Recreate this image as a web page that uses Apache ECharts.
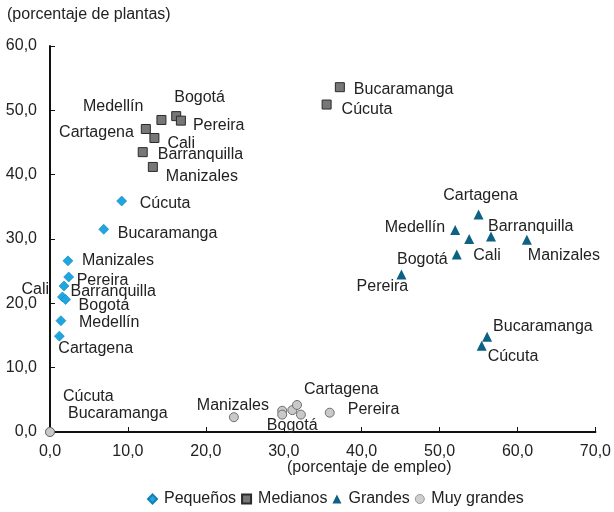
<!DOCTYPE html>
<html>
<head>
<meta charset="utf-8">
<script src="https://cdn.jsdelivr.net/npm/echarts@6/dist/echarts.min.js"></script>
<style>
    html, body { margin: 0; padding: 0; background: #fff; }
    #chart { width: 614px; height: 512px; }
</style>
</head>
<body>
<div id="chart"></div>
<script>
    // datos
    const pequenosNames = ['Cúcuta', 'Bucaramanga', 'Manizales', 'Pereira', 'Cali', 'Barranquilla', 'Bogotá', 'Medellín', 'Cartagena'];
    const pequenosX = [9.2, 6.9, 2.3, 2.4, 1.8, 1.6, 2.0, 1.4, 1.2];
    const pequenosY = [35.9, 31.5, 26.6, 24.1, 22.7, 21.0, 20.6, 17.3, 14.9];

    const medianosNames = ['Medellín', 'Bogotá', 'Pereira', 'Cartagena', 'Cali', 'Barranquilla', 'Manizales', 'Bucaramanga', 'Cúcuta'];
    const medianosX = [14.3, 16.2, 16.8, 12.3, 13.4, 11.9, 13.2, 37.2, 35.5];
    const medianosY = [48.5, 49.1, 48.4, 47.1, 45.7, 43.5, 41.2, 53.6, 50.9];

    const grandesNames = ['Cartagena', 'Medellín', 'Cali', 'Barranquilla', 'Manizales', 'Bogotá', 'Pereira', 'Bucaramanga', 'Cúcuta'];
    const grandesX = [55.0, 52.0, 53.8, 56.6, 61.2, 52.2, 45.1, 56.1, 55.4];
    const grandesY = [33.8, 31.4, 30.0, 30.4, 29.9, 27.6, 24.5, 14.8, 13.4];

    const muyGrandesNames = ['Cúcuta', 'Bucaramanga', 'Manizales', 'Medellín', 'Bogotá', 'Cali', 'Cartagena', 'Barranquilla', 'Pereira'];
    const muyGrandesX = [0, 0, 23.6, 29.8, 29.8, 31.1, 31.7, 32.2, 35.9];
    const muyGrandesY = [0, 0, 2.3, 3.3, 2.7, 3.4, 4.2, 2.7, 3.0];

    // posicion de las etiquetas: [dx, dy, align] desde el centro del simbolo
    const pequenosLabels = {
        'Cúcuta': [18, 1.5, 'left'], 'Bucaramanga': [14, 2.5, 'left'], 'Manizales': [14, -2, 'left'],
        'Pereira': [8, 2, 'left'], 'Cali': [-15, 2, 'right'], 'Barranquilla': [8, -7, 'left'],
        'Bogotá': [13, 5, 'left'], 'Medellín': [18, 0.5, 'left'], 'Cartagena': [-1, 11, 'left']
    };
    const medianosLabels = {
        'Medellín': [-18, -15, 'right'], 'Bogotá': [-2, -20, 'left'], 'Pereira': [12, 3, 'left'],
        'Cartagena': [-12, 2, 'right'], 'Cali': [13, 4, 'left'], 'Barranquilla': [15, 1, 'left'],
        'Manizales': [13, 8, 'left'], 'Bucaramanga': [14, 0.5, 'left'], 'Cúcuta': [15, 4, 'left']
    };
    const grandesLabels = {
        'Cartagena': [2, -20, 'center'], 'Medellín': [-10, -4, 'right'], 'Cali': [4, 15, 'left'],
        'Barranquilla': [-3, -11, 'left'], 'Manizales': [1, 14, 'left'], 'Bogotá': [-9, 4, 'right'],
        'Pereira': [-19, 11, 'center'], 'Bucaramanga': [6, -12, 'left'], 'Cúcuta': [6, 9, 'left']
    };
    const muyGrandesLabels = {
        'Cúcuta': [13, -37, 'left'], 'Bucaramanga': [18, -20, 'left'], 'Manizales': [-1, -13, 'center'],
        'Bogotá': [10, 9, 'center'], 'Cartagena': [7, -17, 'left'], 'Pereira': [18, -5, 'left']
    };

    const FONT = 'Liberation Sans, Arial, sans-serif';
    const fmt = v => v.toFixed(1).replace('.', ',');

    function buildData(names, xs, ys, labels) {
        let out = [];
        for (let i in names) {
            let item = { name: names[i], value: [xs[i], ys[i]] };
            let l = labels[names[i]];
            if (l) {
                item.label = {
                    show: true,
                    position: 'inside',
                    offset: [l[0], l[1] + 1.5],
                    align: l[2],
                    verticalAlign: 'middle',
                    formatter: '{b}',
                    color: '#222',
                    fontSize: 16,
                    fontFamily: FONT,
                    textBorderWidth: 0
                };
            } else {
                item.label = { show: false };
            }
            out.push(item);
        }
        return out;
    }

    let myChart = echarts.init(document.getElementById('chart'));
    myChart.setOption({
        animation: false,
        textStyle: { fontFamily: FONT },
        grid: { left: 50, right: 16, top: 46, bottom: 80 },
        xAxis: {
            type: 'value', min: 0, max: 70, interval: 10,
            axisLine: { lineStyle: { color: '#111', width: 2 } },
            axisTick: { show: true, inside: true, length: 5, lineStyle: { color: '#111' } },
            axisLabel: { color: '#222', fontSize: 16, margin: 12, formatter: fmt },
            splitLine: { show: false }
        },
        yAxis: {
            type: 'value', min: 0, max: 60, interval: 10,
            axisLine: { show: true, lineStyle: { color: '#111', width: 2 } },
            axisTick: { show: true, inside: true, length: 5, lineStyle: { color: '#111' } },
            axisLabel: { color: '#222', fontSize: 16, margin: 13, formatter: fmt },
            splitLine: { show: false }
        },
        legend: {
            left: 142, top: 486,
            itemWidth: 9, itemHeight: 9, itemGap: 5,
            textStyle: { color: '#222', fontSize: 16, fontFamily: FONT, padding: [0, 0, 0, 2] },
            data: [
                { name: 'Pequeños' },
                { name: 'Medianos' },
                { name: 'Grandes' },
                { name: 'Muy grandes', itemStyle: { color: '#cfcfcf', borderColor: '#999', borderWidth: 1 } }
            ]
        },
        graphic: [
            { type: 'text', left: 7, top: 7, style: { text: '(porcentaje de plantas)', fill: '#222', font: '16px ' + FONT } },
            { type: 'text', left: 287, top: 460, style: { text: '(porcentaje de empleo)', fill: '#222', font: '16px ' + FONT } }
        ],
        series: [
            {
                name: 'Pequeños', type: 'scatter', symbol: 'diamond', symbolSize: 10, clip: false, z: 5,
                itemStyle: { color: '#1ea6e0', borderColor: '#137fb3', borderWidth: 0.6, opacity: 1 },
                data: buildData(pequenosNames, pequenosX, pequenosY, pequenosLabels)
            },
            {
                name: 'Medianos', type: 'scatter', symbol: 'rect', symbolSize: 9, clip: false, z: 5,
                itemStyle: { color: '#777777', borderColor: '#2b2b2b', borderWidth: 1, opacity: 1 },
                data: buildData(medianosNames, medianosX, medianosY, medianosLabels)
            },
            {
                name: 'Grandes', type: 'scatter', symbol: 'triangle', symbolSize: 10, clip: false, z: 5,
                itemStyle: { color: '#0d6182', opacity: 1 },
                data: buildData(grandesNames, grandesX, grandesY, grandesLabels)
            },
            {
                name: 'Muy grandes', type: 'scatter', symbol: 'circle', symbolSize: 9, clip: false, z: 5,
                itemStyle: { color: '#c9c9c9', borderColor: '#6e6e6e', borderWidth: 1, opacity: 1 },
                data: buildData(muyGrandesNames, muyGrandesX, muyGrandesY, muyGrandesLabels)
            }
        ]
    });
</script>
</body>
</html>
